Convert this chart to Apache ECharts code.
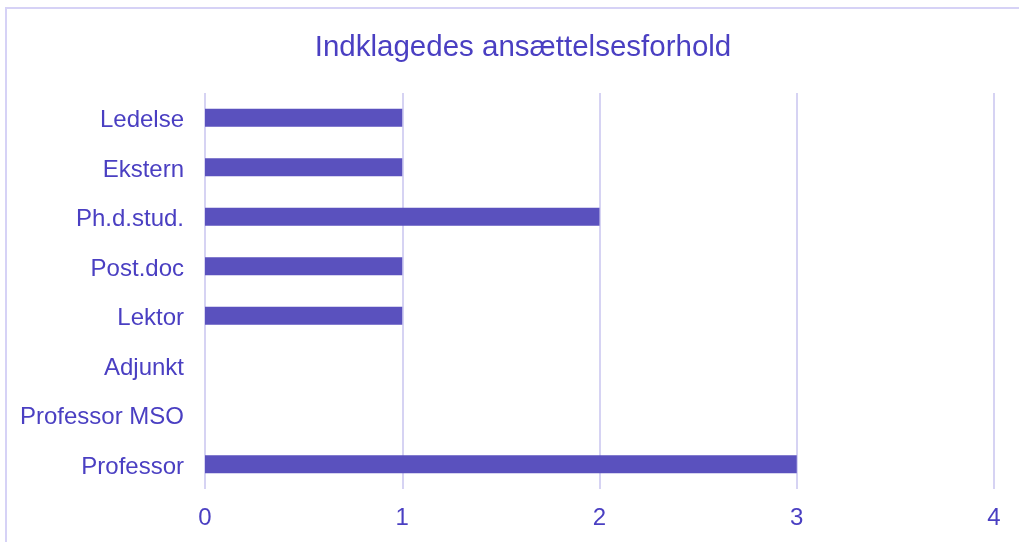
<!DOCTYPE html>
<html lang="da">
<head>
    <meta charset="UTF-8">
    <title>Indklagedes ansættelsesforhold</title>
    <script src="https://cdn.jsdelivr.net/npm/echarts@6/dist/echarts.min.js"></script>
    <style>
        body {
            margin: 0;
            background: #ffffff;
        }
        #main {
            width: 1019px;
            height: 542px;
            position: relative;
        }
        .frame {
            position: absolute;
            left: 5px;
            top: 7px;
            width: 1100px;
            height: 600px;
            border: 2px solid #d6d2f6;
            box-sizing: border-box;
            pointer-events: none;
        }
    </style>
</head>
<body>
<div class="frame"></div>
<div id="main"></div>
<script>
    // kategorier nedefra og op (Professor nederst)
    var categories = ['Professor', 'Professor MSO', 'Adjunkt', 'Lektor', 'Post.doc', 'Ph.d.stud.', 'Ekstern', 'Ledelse'];
    var counts = [3, 0, 0, 1, 1, 2, 1, 1];
    var xTicks = [0, 1, 2, 3, 4];

    var textColor = '#4a3fc2';
    var fontFam = 'Liberation Sans, Arial, sans-serif';
    var chart = echarts.init(document.getElementById('main'));

    chart.setOption({
        animation: false,
        title: {
            text: 'Indklagedes ansættelsesforhold',
            left: 518,
            top: 28,
            textAlign: 'center',
            textStyle: {
                color: textColor,
                fontFamily: fontFam,
                fontSize: 29.5,
                fontWeight: 'normal'
            }
        },
        grid: {
            left: 205,
            right: 25,
            top: 93,
            bottom: 53,
            containLabel: false
        },
        xAxis: {
            type: 'value',
            min: xTicks[0],
            max: xTicks[xTicks.length - 1],
            interval: 1,
            axisLine: { show: false },
            axisTick: { show: false },
            splitLine: { lineStyle: { color: '#d6d3f3', width: 2 } },
            axisLabel: {
                color: textColor,
                fontSize: 24,
                margin: 17,
                fontFamily: fontFam
            }
        },
        yAxis: {
            type: 'category',
            data: categories,
            axisLine: { show: false },
            axisTick: { show: false },
            axisLabel: {
                color: textColor,
                fontSize: 24,
                margin: 21,
                fontFamily: fontFam,
                formatter: function (v) { return '{a|' + v + '}'; },
                rich: {
                    a: {
                        color: textColor,
                        fontSize: 24,
                        fontFamily: fontFam,
                        padding: [6, 0, 0, 0]
                    }
                }
            }
        },
        series: [{
            type: 'bar',
            data: counts,
            barWidth: 18,
            itemStyle: { color: '#5a51be' }
        }]
    });
</script>
</body>
</html>
